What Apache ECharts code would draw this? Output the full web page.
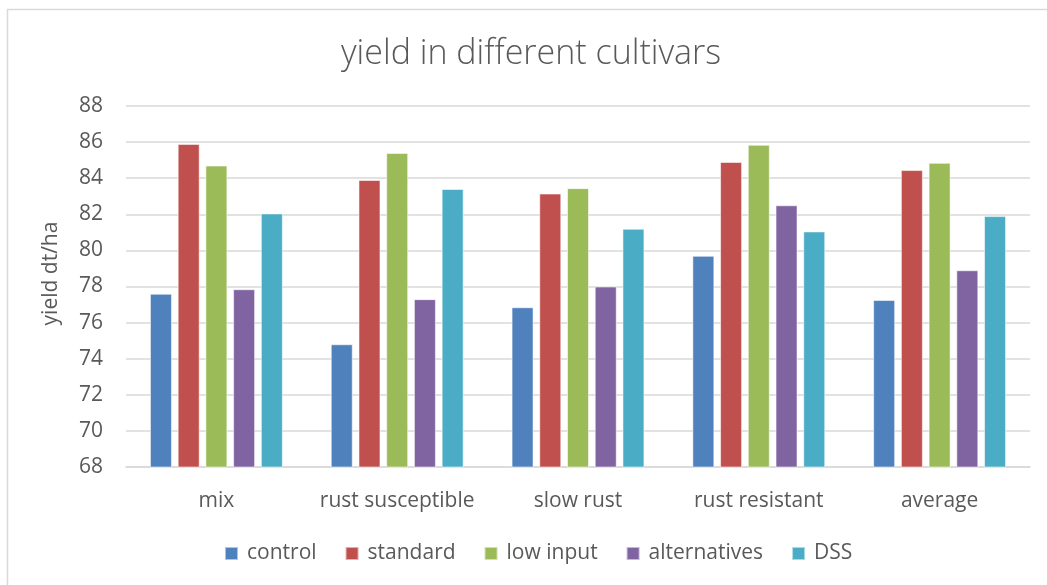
<!DOCTYPE html>
<html>
<head>
<meta charset="utf-8">
<script src="https://cdn.jsdelivr.net/npm/echarts@6/dist/echarts.min.js"></script>
<style>
  html, body { margin: 0; padding: 0; background: #fff; }
  #chart { width: 1047px; height: 585px; }
</style>
</head>
<body>
<div id="chart"></div>
<script>
// Yield (dt/ha) per cultivar group and treatment
const categories = ['mix', 'rust susceptible', 'slow rust', 'rust resistant', 'average'];
const control      = [77.6, 74.8, 76.85, 79.7, 77.25];
const standard     = [85.9, 83.9, 83.15, 84.9, 84.45];
const lowInput     = [84.7, 85.4, 83.45, 85.85, 84.85];
const alternatives = [77.85, 77.3, 78.0, 82.5, 78.9];
const dss          = [82.05, 83.4, 81.2, 81.05, 81.9];
const seriesNames  = ['control', 'standard', 'low input', 'alternatives', 'DSS'];
const seriesData   = [control, standard, lowInput, alternatives, dss];
const colors       = ['#4F81BD', '#C0504D', '#9BBB59', '#8064A2', '#4BACC6'];

const FONT = '"Open Sans", "Noto Sans", sans-serif';
const TEXT = '#595959';

const chart = echarts.init(document.getElementById('chart'), null, { renderer: 'canvas' });

chart.setOption({
  animation: false,
  backgroundColor: '#ffffff',
  color: colors,
  textStyle: { fontFamily: FONT, color: TEXT },
  graphic: [{
    type: 'rect',
    left: 5, top: 7,
    shape: { width: 1200, height: 700 },
    style: { fill: 'none', stroke: '#d9d9d9', lineWidth: 1.5 },
    silent: true
  }],
  title: {
    text: 'yield in different cultivars',
    left: 336,
    top: 32,
    textStyle: { fontFamily: FONT, fontSize: 34, fontWeight: 300, color: TEXT }
  },
  legend: {
    bottom: 16,
    left: 219,
    itemWidth: 13,
    itemHeight: 13,
    itemGap: 28,
    icon: 'rect',
    textStyle: { fontFamily: FONT, fontSize: 21, color: TEXT, padding: [0, 0, 0, 4] },
    data: seriesNames
  },
  grid: { left: 126, right: 17, top: 106, bottom: 118, containLabel: false },
  xAxis: {
    type: 'category',
    data: categories,
    axisTick: { show: false },
    axisLine: { lineStyle: { color: '#d9d9d9', width: 1.5 } },
    axisLabel: { fontFamily: FONT, fontSize: 21, color: TEXT, margin: 24, interval: 0 }
  },
  yAxis: {
    type: 'value',
    min: 68,
    max: 88,
    interval: 2,
    name: 'yield dt/ha',
    nameLocation: 'middle',
    nameGap: 64,
    nameTextStyle: { fontFamily: FONT, fontSize: 21, color: TEXT, padding: [0, 0, 0, 26] },
    axisLine: { show: false },
    axisTick: { show: false },
    axisLabel: { fontFamily: FONT, fontSize: 21, color: TEXT, margin: 23 },
    splitLine: { lineStyle: { color: '#d9d9d9', width: 1.5 } }
  },
  series: seriesNames.map((name, i) => ({
    name: name,
    type: 'bar',
    data: seriesData[i],
    barWidth: 22,
    barGap: '26%',
    itemStyle: { color: colors[i], borderColor: 'rgba(255,255,255,0.55)', borderWidth: 1 }
  }))
});
</script>
</body>
</html>
